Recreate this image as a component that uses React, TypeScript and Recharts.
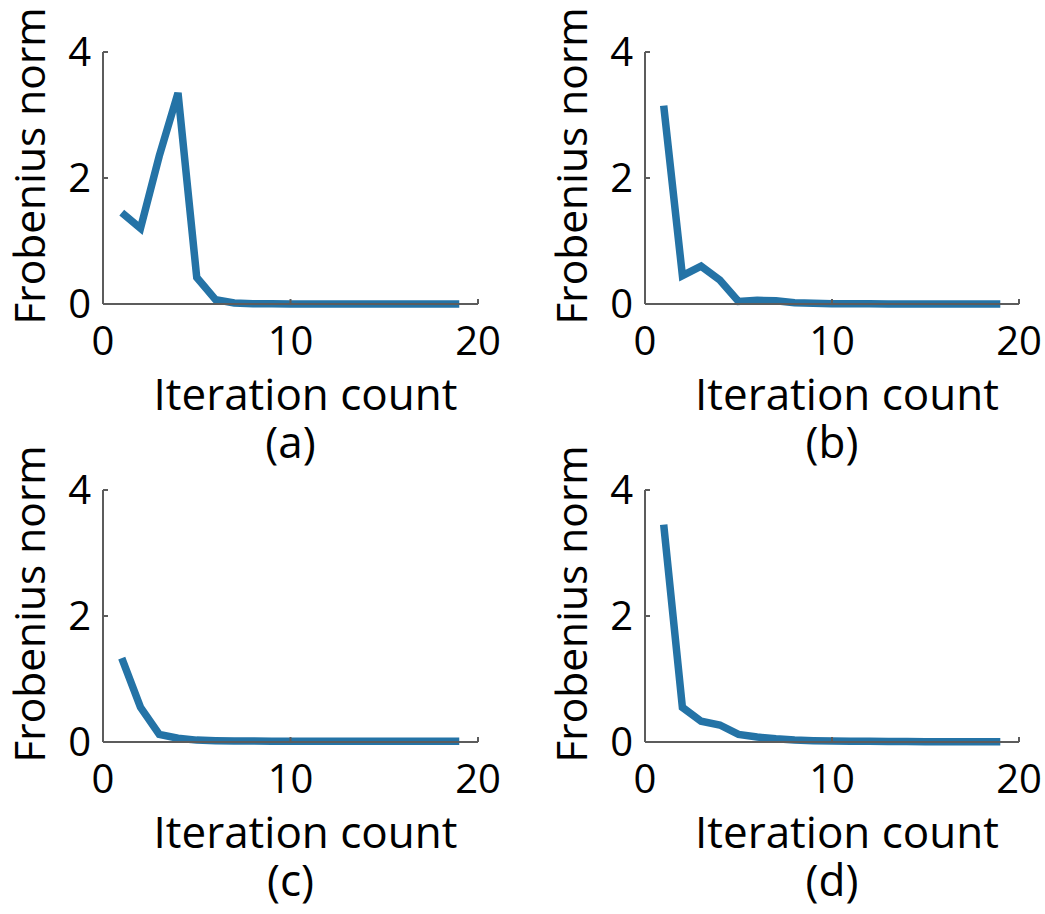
import React from "react";
import { LineChart, Line, XAxis, YAxis } from "recharts";

// iteration index shared by all four runs
const iterations = [1, 2, 3, 4, 5, 6, 7, 8, 9, 10, 11, 12, 13, 14, 15, 16, 17, 18, 19];

// Frobenius norm per iteration
const normA = [1.45, 1.2, 2.35, 3.35, 0.42, 0.07, 0.015, 0.005, 0.002, 0.001, 0, 0, 0, 0, 0, 0, 0, 0, 0];
const normB = [3.15, 0.45, 0.6, 0.38, 0.04, 0.06, 0.05, 0.02, 0.01, 0.005, 0.003, 0.002, 0.001, 0, 0, 0, 0, 0, 0];
const normC = [1.33, 0.55, 0.12, 0.06, 0.03, 0.02, 0.015, 0.015, 0.012, 0.01, 0.01, 0.01, 0.01, 0.01, 0.01, 0.01, 0.01, 0.01, 0.01];
const normD = [3.45, 0.55, 0.33, 0.27, 0.12, 0.08, 0.05, 0.03, 0.02, 0.015, 0.01, 0.01, 0.008, 0.006, 0.005, 0.004, 0.003, 0.003, 0.003];

const panelLabels = ["(a)", "(b)", "(c)", "(d)"];
const xTicks = [0, 10, 20];
const yTicks = [0, 2, 4];
const xLabel = "Iteration count";
const yLabel = "Frobenius norm";

const LINE_COLOR = "#2473a6";
const AXIS_COLOR = "#5c5c5c";
const FONT = "'Open Sans', sans-serif";

const XTick = (props: any) => {
	const { x, y, payload } = props;
	return (
		<text x={x} y={y + 51} textAnchor="middle" fontSize={40} fontFamily={FONT} fill="#000">
			{payload.value}
		</text>
	);
};

const YTick = (props: any) => {
	const { x, y, payload } = props;
	return (
		<text x={x - 12} y={y + 14} textAnchor="end" fontSize={40} fontFamily={FONT} fill="#000">
			{payload.value}
		</text>
	);
};

interface PanelProps {
	values: number[];
	label: string;
	left: number;
	top: number;
	width: number;
	height: number;
	plotLeft: number;
	plotRight: number;
}

const Panel: React.FC<PanelProps> = ({ values, label, left, top, width, height, plotLeft, plotRight }) => {
	const data = iterations.map((x, i) => ({ x, y: values[i] }));
	// axes take 1px each, so the plot box lands on plotLeft / y=304
	const margin = { top: 52, left: plotLeft - 1, right: width - plotRight, bottom: height - 304 - 1 };
	return (
		<div style={{ position: "absolute", left, top }}>
			<LineChart width={width} height={height} data={data} margin={margin} style={{ overflow: "visible" }}>
				<XAxis
					type="number"
					dataKey="x"
					domain={[0, 20]}
					ticks={xTicks}
					interval={0}
					height={1}
					tickSize={-5}
					tickMargin={5}
					tick={<XTick />}
					axisLine={{ stroke: AXIS_COLOR, strokeWidth: 2 }}
					tickLine={{ stroke: AXIS_COLOR, strokeWidth: 2 }}
					label={{
						content: (p: any) => {
							const vb = p.viewBox || {};
							const cx = vb.x + vb.width / 2;
							const by = vb.y;
							return (
								<g fontFamily={FONT} fontSize={44} fill="#000">
									<text x={cx + 15} y={by + 106} textAnchor="middle">
										{xLabel}
									</text>
									<text x={cx} y={by + 154} textAnchor="middle">
										{label}
									</text>
								</g>
							);
						},
					}}
				/>
				<YAxis
					type="number"
					domain={[0, 4]}
					ticks={yTicks}
					interval={0}
					width={1}
					tickSize={-5}
					tickMargin={5}
					tick={<YTick />}
					axisLine={{ stroke: AXIS_COLOR, strokeWidth: 2 }}
					tickLine={{ stroke: AXIS_COLOR, strokeWidth: 2 }}
					label={{
						content: (p: any) => {
							const vb = p.viewBox || {};
							const ax = vb.x + vb.width;
							const cy = vb.y + vb.height / 2;
							return (
								<text
									transform={`translate(${ax - 58}, ${cy - 12}) rotate(-90)`}
									textAnchor="middle"
									fontFamily={FONT}
									fontSize={42.5}
									fill="#000"
								>
									{yLabel}
								</text>
							);
						},
					}}
				/>
				<Line
					type="linear"
					dataKey="y"
					stroke={LINE_COLOR}
					strokeWidth={7.5}
					dot={false}
					activeDot={false}
					isAnimationActive={false}
				/>
			</LineChart>
		</div>
	);
};

export default function App() {
	return (
		<div style={{ position: "absolute", left: 0, top: 0, width: 1045, height: 914, background: "#fff" }}>
			<Panel values={normA} label={panelLabels[0]} left={0} top={0} width={522} height={470} plotLeft={103} plotRight={478} />
			<Panel values={normB} label={panelLabels[1]} left={522} top={0} width={523} height={470} plotLeft={123} plotRight={497} />
			<Panel values={normC} label={panelLabels[2]} left={0} top={438} width={522} height={476} plotLeft={103} plotRight={478} />
			<Panel values={normD} label={panelLabels[3]} left={522} top={438} width={523} height={476} plotLeft={123} plotRight={497} />
		</div>
	);
}
